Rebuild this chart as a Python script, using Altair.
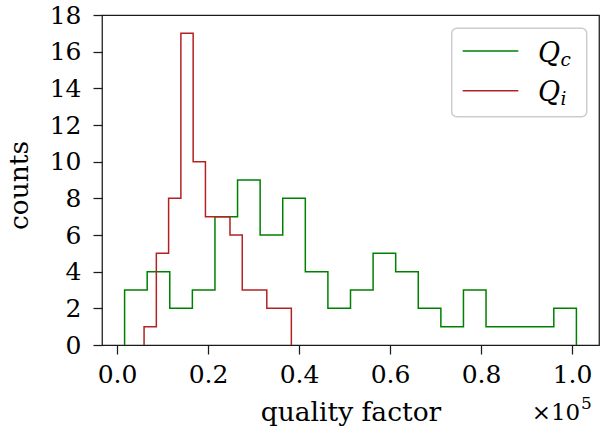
import altair as alt
import numpy as np
import pandas as pd

# Histogram counts per bin and the range each histogram spans
QC_COUNTS = [3, 4, 2, 3, 7, 9, 6, 8, 4, 2, 3, 5, 4, 2, 1, 3, 1, 1, 1, 2]
QC_RANGE = [1650, 100950]
QI_COUNTS = [1, 5, 8, 17, 10, 7, 7, 6, 3, 3, 2, 2]
QI_RANGE = [5930, 38300]

SERIES = ["Qc", "Qi"]
COLORS = ["#008000", "#b22222"]
X_TICKS = [0, 20000, 40000, 60000, 80000, 100000]
Y_TICKS = list(range(0, 19, 2))

FONT = "DejaVu Serif"
INK = "#1a1a1a"


def step_outline(name, counts, lo, hi):
    """Outline of a step histogram (like histtype='step')."""
    edges = np.linspace(lo, hi, len(counts) + 1)
    xs, ys = [edges[0]], [0]
    for i, c in enumerate(counts):
        xs += [edges[i], edges[i + 1]]
        ys += [c, c]
    xs.append(edges[-1])
    ys.append(0)
    return pd.DataFrame({"series": name, "q": xs, "count": ys, "order": range(len(xs))})


hist = pd.concat([
    step_outline("Qc", QC_COUNTS, *QC_RANGE),
    step_outline("Qi", QI_COUNTS, *QI_RANGE),
])

lo = min(QC_RANGE[0], QI_RANGE[0])
hi = max(QC_RANGE[1], QI_RANGE[1])
pad = 0.05 * (hi - lo)

lines = alt.Chart(hist).mark_line(strokeWidth=1.5, strokeJoin="miter").encode(
    x=alt.X(
        "q:Q",
        scale=alt.Scale(domain=[lo - pad, hi + pad], nice=False, zero=False),
        axis=alt.Axis(
            values=X_TICKS,
            labelExpr="format(datum.value / 1e5, '.1f')",
            title="quality factor",
            titleX=248.5,
            titleY=75,
            titleBaseline="alphabetic",
            titleAlign="center",
            labelPadding=8,
        ),
    ),
    y=alt.Y(
        "count:Q",
        scale=alt.Scale(domain=[0, 18], nice=False),
        axis=alt.Axis(
            values=Y_TICKS,
            format="d",
            title="counts",
            titleAngle=270,
            titleX=-75,
            titleY=170,
            titleBaseline="alphabetic",
            titleAlign="center",
            labelPadding=12,
        ),
    ),
    color=alt.Color("series:N", scale=alt.Scale(domain=SERIES, range=COLORS), legend=None),
    order="order:Q",
)

anchor = pd.DataFrame({"k": [0]})
base = alt.Chart(anchor)

# Legend box with line samples and math-style labels
legend_box = base.mark_rect(
    fill="white", fillOpacity=0.8, stroke="#cccccc", strokeWidth=1.5, cornerRadius=5
).encode(x=alt.value(349.7), x2=alt.value(484.7), y=alt.value(13.3), y2=alt.value(101.7))

sample_c = base.mark_rule(color=COLORS[0], strokeWidth=1.5).encode(
    x=alt.value(360.7), x2=alt.value(416.3), y=alt.value(36)
)
sample_i = base.mark_rule(color=COLORS[1], strokeWidth=1.5).encode(
    x=alt.value(360.7), x2=alt.value(416.3), y=alt.value(75.7)
)

q_style = dict(font=FONT, fontStyle="italic", fontSize=27, align="left", baseline="alphabetic", color="black")
sub_style = dict(font=FONT, fontStyle="italic", fontSize=18.5, align="left", baseline="alphabetic", color="black")

q_c = base.mark_text(text="Q", **q_style).encode(x=alt.value(436), y=alt.value(46.5))
sub_c = base.mark_text(text="c", **sub_style).encode(x=alt.value(458.5), y=alt.value(50.5))
q_i = base.mark_text(text="Q", **q_style).encode(x=alt.value(436), y=alt.value(86))
sub_i = base.mark_text(text="i", **sub_style).encode(x=alt.value(458.5), y=alt.value(90))

# Axis offset text (×10^5)
offset_main = base.mark_text(
    text="×10", font=FONT, fontSize=23, align="left", baseline="alphabetic", color="black"
).encode(x=alt.value(429.7), y=alt.value(405))
offset_exp = base.mark_text(
    text="5", font=FONT, fontSize=17, align="left", baseline="alphabetic", color="black"
).encode(x=alt.value(479), y=alt.value(394))

chart = alt.layer(
    lines, legend_box, sample_c, sample_i, q_c, sub_c, q_i, sub_i, offset_main, offset_exp
).properties(
    width=497,
    height=330,
    padding={"left": 102, "top": 15, "right": 1, "bottom": 91},
    autosize=alt.AutoSizeParams(type="none"),
    background="white",
).configure_view(
    stroke=INK, strokeWidth=1.25
).configure_axis(
    domain=False,
    grid=False,
    ticks=True,
    tickColor=INK,
    tickWidth=1.25,
    tickSize=9,
    labelFont=FONT,
    labelFontSize=25,
    labelColor="black",
    titleFont=FONT,
    titleFontSize=26.5,
    titleFontWeight="normal",
    titleColor="black",
)

chart.save("out.html", embed_options={"renderer": "svg", "actions": False})
